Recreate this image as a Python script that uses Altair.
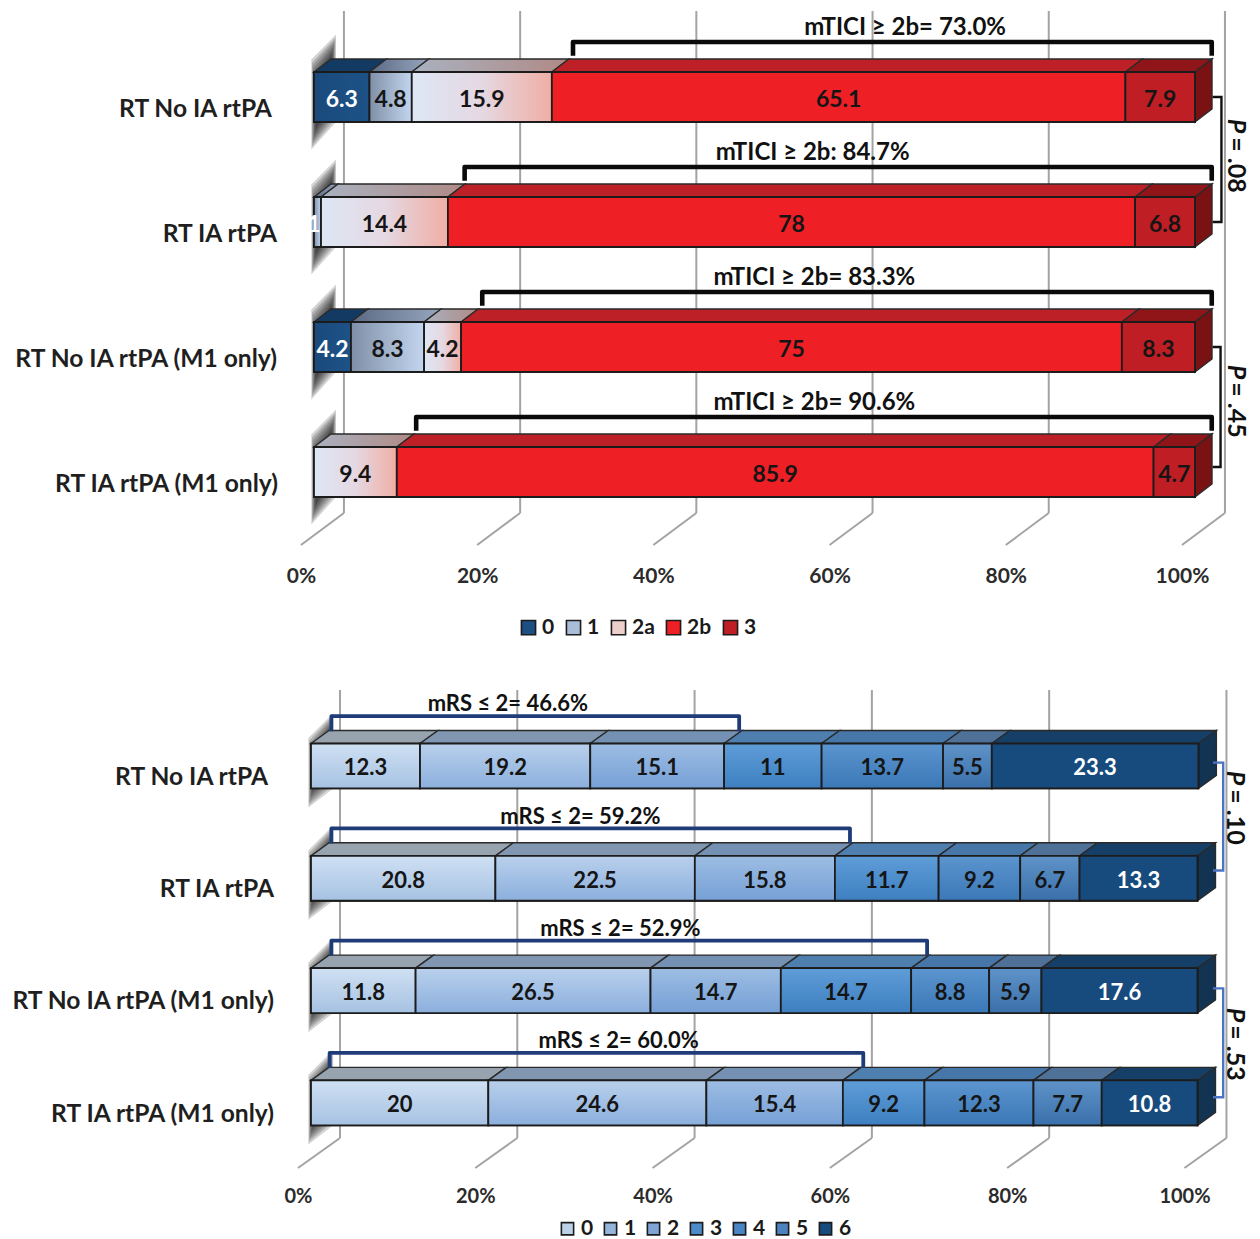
import altair as alt
import pandas as pd

rows = ["RT No IA rtPA", "RT IA rtPA", "RT No IA rtPA (M1 only)", "RT IA rtPA (M1 only)"]
ticks = [0, 20, 40, 60, 80, 100]

tici_cats = ["0", "1", "2a", "2b", "3"]
tici_vals = {
    "0": [6.3, 0, 4.2, 0],
    "1": [4.8, 0.8, 8.3, 0],
    "2a": [15.9, 14.4, 4.2, 9.4],
    "2b": [65.1, 78, 75, 85.9],
    "3": [7.9, 6.8, 8.3, 4.7],
}
tici_text = ["mTICI ≥ 2b= 73.0%", "mTICI ≥ 2b: 84.7%", "mTICI ≥ 2b= 83.3%", "mTICI ≥ 2b= 90.6%"]
tici_text_x = [67.1, 56.6, 56.8, 56.8]
tici_br_left = [29.4, 17.1, 19.1, 11.6]
tici_br_right = [101.9, 101.9, 101.9, 101.9]

mrs_cats = ["0", "1", "2", "3", "4", "5", "6"]
mrs_vals = {
    "0": [12.3, 20.8, 11.8, 20],
    "1": [19.2, 22.5, 26.5, 24.6],
    "2": [15.1, 15.8, 14.7, 15.4],
    "3": [11, 11.7, 14.7, 9.2],
    "4": [13.7, 9.2, 8.8, 12.3],
    "5": [5.5, 6.7, 5.9, 7.7],
    "6": [23.3, 13.3, 17.6, 10.8],
}
mrs_text = ["mRS ≤ 2= 46.6%", "mRS ≤ 2= 59.2%", "mRS ≤ 2= 52.9%", "mRS ≤ 2= 60.0%"]
mrs_text_x = [22.2, 30.4, 34.9, 34.7]
mrs_br_left = [2.3, 2.3, 2.3, 2.1]
mrs_br_right = [48.3, 60.8, 69.5, 62.3]

FONT = "Lato"


def grad(c1, c2, vertical=False, mid=None):
    stops = [alt.GradientStop(color=c1, offset=0)]
    if mid:
        stops.append(alt.GradientStop(color=mid, offset=0.5))
    stops.append(alt.GradientStop(color=c2, offset=1))
    return alt.LinearGradient(gradient="linear", stops=stops, x1=0, x2=0 if vertical else 1,
                              y1=0, y2=1 if vertical else 0)


def panel(cats, vals, solid, front, top, side, white, text, text_x, br_left, br_right, br_style,
          p_style, p_items, geom):
    xs = alt.Scale(domain=geom["xdom"], nice=False, zero=False)
    ys = alt.Scale(domain=geom["ydom"], nice=False, zero=False, reverse=True)
    Y = lambda f: alt.Y(f, type="quantitative", scale=ys, title=None, axis=None)
    X2 = lambda f: alt.X2(f)
    Y2 = lambda f: alt.Y2(f)
    dx, dy, hh = geom["dx"], geom["dy"], 0.2

    seg, topf, sidef = [], [], []
    for r, name in enumerate(rows):
        c = 0
        nz = [k for k in cats if vals[k][r] > 0]
        for k in nz:
            v = vals[k][r]
            a, b = c, c + v
            c = b
            label = "1" if v < 1 else f"{v:g}"
            seg.append(dict(row=r, cat=k, a=a, b=b, y0=r - hh, y1=r + hh, label=label,
                            tx=a if v < 1 else (a + b) / 2, ty=r + geom["ty"],
                            white=k in white or v < 1))
            sid = f"{r}-{k}"
            topf += [dict(id=sid, cat=k, y=r - hh, a=a, b=b),
                     dict(id=sid, cat=k, y=r - hh - dy, a=a + dx, b=b + dx)]
            if k == nz[-1]:
                sidef += [dict(id=sid, x=b, y0=r + hh, y1=r - hh),
                          dict(id=sid, x=b + dx, y0=r + hh - dy, y1=r - hh - dy)]
    seg, topf, sidef = pd.DataFrame(seg), pd.DataFrame(topf), pd.DataFrame(sidef)

    grid = pd.DataFrame([dict(t=t, x=t + geom["gx"], xf=t + geom["fx"], yt=geom["gy"][0],
                              yb=geom["gy"][1], yf=geom["gy"][2]) for t in ticks])

    # x axis carrier comes first so its axis definition is kept
    axis = alt.Axis(values=ticks, labelExpr="datum.value + '%'", grid=False, domain=False, ticks=False,
                    labelFont=FONT, labelFontWeight="bold", labelFontSize=geom["axfs"],
                    labelColor="#2b2b2b", labelPadding=0, offset=geom["axoff"],
                    labelOffset=geom["lo"], labelFlush=False, labelOverlap=False, labelAngle=0)
    layers = [
        alt.Chart(grid).mark_rule(color="#a3a3a3", strokeWidth=2).encode(
            x=alt.X("t:Q", scale=xs, title=None, axis=axis), y=Y("yf"), y2=Y2("yf"), opacity=alt.value(0)),
        alt.Chart(grid).mark_rule(color="#a3a3a3", strokeWidth=2).encode(
            x=alt.X("x:Q", scale=xs, title=None), y=Y("yt"), y2=Y2("yb")),
        alt.Chart(grid).mark_rule(color="#a3a3a3", strokeWidth=2).encode(
            x=alt.X("x:Q", scale=xs, title=None), x2=X2("xf"), y=Y("yb"), y2=Y2("yf")),
    ]

    # soft shadow behind each bar's left end
    sh = []
    for r in range(4):
        for lvl in range(8):
            ins = lvl * geom["shi"]
            sh += [dict(id=f"{r}-{lvl}", lvl=lvl, x=-0.3 + ins * 3, y0=r - geom["sh"][0] + ins, y1=r + geom["sh"][1] - ins),
                   dict(id=f"{r}-{lvl}", lvl=lvl, x=2.5 - ins * 3, y0=r - geom["sh"][2] + ins, y1=r + geom["sh"][3] - ins)]
    layers.append(alt.Chart(pd.DataFrame(sh)).mark_area(color="#222222", opacity=0.2).encode(
        x=alt.X("x:Q", scale=xs, title=None, stack=None), y=Y("y0"), y2=Y2("y1"), detail="id:N"))

    # top faces
    for k in cats:
        d = topf[topf.cat == k]
        if d.empty:
            continue
        layers.append(alt.Chart(d).mark_area(orient="horizontal", color=top[k], stroke="#2a2a2a", strokeWidth=1.4).encode(
            y=Y("y"), x=alt.X("a:Q", scale=xs, title=None, stack=None), x2=X2("b"), detail="id:N"))
    # right face
    layers.append(alt.Chart(sidef).mark_area(color=side, stroke="#2a2a2a", strokeWidth=1.4).encode(
        x=alt.X("x:Q", scale=xs, title=None, stack=None), y=Y("y0"), y2=Y2("y1"), detail="id:N"))

    # front faces: solid base carries the legend, gradient overlay per category
    layers.append(alt.Chart(seg).mark_bar(stroke="#1c1c1c", strokeWidth=1.8).encode(
        x=alt.X("a:Q", scale=xs, title=None, stack=None), x2=X2("b"), y=Y("y0"), y2=Y2("y1"),
        color=alt.Color("cat:N", scale=alt.Scale(domain=cats, range=[solid[k] for k in cats]),
                        legend=alt.Legend(title=None, orient="none", direction="horizontal",
                                          legendX=geom["lx"], legendY=geom["ly"], symbolType="square",
                                          symbolSize=geom["sym"], symbolStrokeColor="#1c1c1c",
                                          symbolStrokeWidth=1.6, labelFont=FONT, labelFontWeight="bold",
                                          labelFontSize=21, labelColor="#1a1a1a", columnPadding=geom["cp"],
                                          symbolOpacity=1, labelOffset=3, columns=len(cats)))))
    for k in cats:
        if k not in front:
            continue
        d = seg[seg.cat == k]
        if d.empty:
            continue
        layers.append(alt.Chart(d).mark_bar(color=front[k], stroke="#1c1c1c", strokeWidth=1.8).encode(
            x=alt.X("a:Q", scale=xs, title=None, stack=None), x2=X2("b"), y=Y("y0"), y2=Y2("y1")))

    # value labels
    layers.append(alt.Chart(seg).mark_text(font=FONT, fontWeight="bold", fontSize=geom["vfs"], baseline="middle").encode(
        x=alt.X("tx:Q", scale=xs, title=None), y=Y("ty"), text="label:N",
        color=alt.condition("datum.white", alt.value("#ffffff"), alt.value("#151515"))))

    # brackets
    br = []
    for r in range(4):
        for o, (x, y) in enumerate([(br_left[r], r + geom["bb"]), (br_left[r], r + geom["bt"]),
                                    (br_right[r], r + geom["bt"]), (br_right[r], r + geom["bb"])]):
            br.append(dict(row=r, o=o, x=x, y=y))
    layers.append(alt.Chart(pd.DataFrame(br)).mark_line(color=br_style[0], strokeWidth=br_style[1], strokeJoin="round").encode(
        x=alt.X("x:Q", scale=xs, title=None), y=Y("y"), detail="row:N", order="o:Q"))

    # row labels and bracket captions
    lab = pd.DataFrame(dict(name=rows, x=geom["lab_x"], y=[r + geom["lab_y"] for r in range(4)]))
    layers.append(alt.Chart(lab).mark_text(font=FONT, fontWeight="bold", fontSize=geom["rfs"], align="right",
                                           baseline="middle", color="#1f1f1f").encode(
        x=alt.X("x:Q", scale=xs, title=None), y=Y("y"), text="name:N"))
    cap = pd.DataFrame(dict(t=text, x=text_x, y=[r + geom["cy"] for r in range(4)]))
    layers.append(alt.Chart(cap).mark_text(font=FONT, fontWeight="bold", fontSize=geom["cfs"], baseline="middle",
                                           color="#111111").encode(
        x=alt.X("x:Q", scale=xs, title=None), y=Y("y"), text="t:N"))

    # P value brackets
    pb = []
    for i, (r0, r1, xa, xb, *_rest) in enumerate(p_items):
        for o, (x, y) in enumerate([(xa, r0), (xb, r0), (xb, r1), (xa, r1)]):
            pb.append(dict(i=i, o=o, x=x, y=y))
    layers.append(alt.Chart(pd.DataFrame(pb)).mark_line(color=p_style, strokeWidth=2.4).encode(
        x=alt.X("x:Q", scale=xs, title=None), y=Y("y"), detail="i:N", order="o:Q"))
    pt1 = pd.DataFrame([dict(x=it[4], y=it[5], t="P") for it in p_items])
    pt2 = pd.DataFrame([dict(x=it[4], y=it[6], t=it[7]) for it in p_items])
    for d, st in ((pt1, "italic"), (pt2, "normal")):
        layers.append(alt.Chart(d).mark_text(font=FONT, fontWeight="bold", fontStyle=st, fontSize=geom["pfs"], angle=90,
                                             baseline="middle", color="#111111").encode(
            x=alt.X("x:Q", scale=xs, title=None), y=Y("y"), text="t:N"))

    return alt.layer(*layers).properties(width=1244, height=geom["h"])


top_chart = panel(
    tici_cats, tici_vals,
    solid={"0": "#1c4f82", "1": "#a9bcd8", "2a": "#eccfcb", "2b": "#ee1f25", "3": "#be1e24"},
    front={"0": grad("#1b4a7c", "#1d5287"), "1": grad("#7f8fa8", "#c4d6ef"),
           "2a": grad("#dde7f5", "#f0aea4", mid="#e5d8e2"), "2b": "#ee1f25", "3": "#be1e24"},
    top={"0": "#133a63", "1": grad("#5b6a82", "#97a6bf"), "2a": grad("#a9b2c0", "#b08a86"),
         "2b": "#bd2027", "3": "#8f1519"},
    side="#7a1213", white={"0"}, text=tici_text, text_x=tici_text_x,
    br_left=tici_br_left, br_right=tici_br_right, br_style=("#0a0a0a", 4.6),
    p_style="#111111",
    p_items=[(0.0, 1.0, 102.0, 103.0, 104.7, 0.232, 0.544, "= .08"),
             (2.0, 2.96, 102.0, 102.9, 104.7, 2.2, 2.504, "= .45")],
    geom=dict(xdom=[-34.73, 106.47], ydom=[-0.712, 4.424], h=642, dx=1.93, dy=0.104, ty=0.022,
              gx=3.4, fx=-1.48, gy=[-0.688, 3.328, 3.584], axfs=21, axoff=-85, lo=-13,
              lx=510, ly=609, sym=200, cp=8, vfs=23, bb=-0.33, bt=-0.44, lab_x=[-4.77, -4.2, -4.2, -4.08],
              lab_y=0.1, rfs=24.6, cy=-0.552, cfs=24, pfs=25, shi=0.025, sh=[0.3, 0.42, 0.5, 0.2]),
)

bottom_chart = panel(
    mrs_cats, mrs_vals,
    solid={"0": "#bcd2ea", "1": "#94b4dc", "2": "#7ea5d5", "3": "#4d8cca", "4": "#4a86c4", "5": "#4c82bd", "6": "#174b7d"},
    front={"0": grad("#cfe0f3", "#a6c2e2", True), "1": grad("#b9d0ec", "#8bafdd", True), "2": grad("#9dbde3", "#76a0d6", True),
           "3": grad("#5f9dd8", "#3d7fc0", True), "4": grad("#5c95cf", "#3b78b7", True), "5": grad("#5f93c8", "#3a70ab", True),
           "6": "#174b7d"},
    top={"0": "#98a3b0", "1": "#8197b1", "2": "#7490b2", "3": "#4f7fae", "4": "#4777a8", "5": "#4f7198", "6": "#163f68"},
    side="#123352", white={"6"}, text=mrs_text, text_x=mrs_text_x,
    br_left=mrs_br_left, br_right=mrs_br_right, br_style=("#1f3c78", 3.8),
    p_style="#4a75c4",
    p_items=[(-0.03, 0.93, 101.75, 102.9, 104.2, 0.107, 0.454, "= .10"),
             (1.98, 2.95, 101.75, 102.9, 104.2, 2.217, 2.556, "= .53")],
    geom=dict(xdom=[-34.18, 106.15], ydom=[-1.033, 4.141], h=581, dx=2.03, dy=0.116, ty=0.022,
              gx=3.27, fx=-1.47, gy=[-0.677, 3.313, 3.58], axfs=20, axoff=-45, lo=-13,
              lx=549, ly=568, sym=150, cp=6, vfs=22, bb=-0.31, bt=-0.445, lab_x=[-4.85, -4.17, -4.17, -4.17],
              lab_y=0.105, rfs=24.6, cy=-0.55, cfs=22, pfs=25, shi=0.025, sh=[0.25, 0.37, 0.47, 0.2]),
)

chart = alt.vconcat(top_chart, bottom_chart, spacing=0, padding=0, background="white",
                    autosize=alt.AutoSizeParams(type="pad")).resolve_scale(color="independent").resolve_legend(color="independent").configure_view(strokeWidth=0)

chart.save("out.html", embed_options={"renderer": "svg", "actions": False})
